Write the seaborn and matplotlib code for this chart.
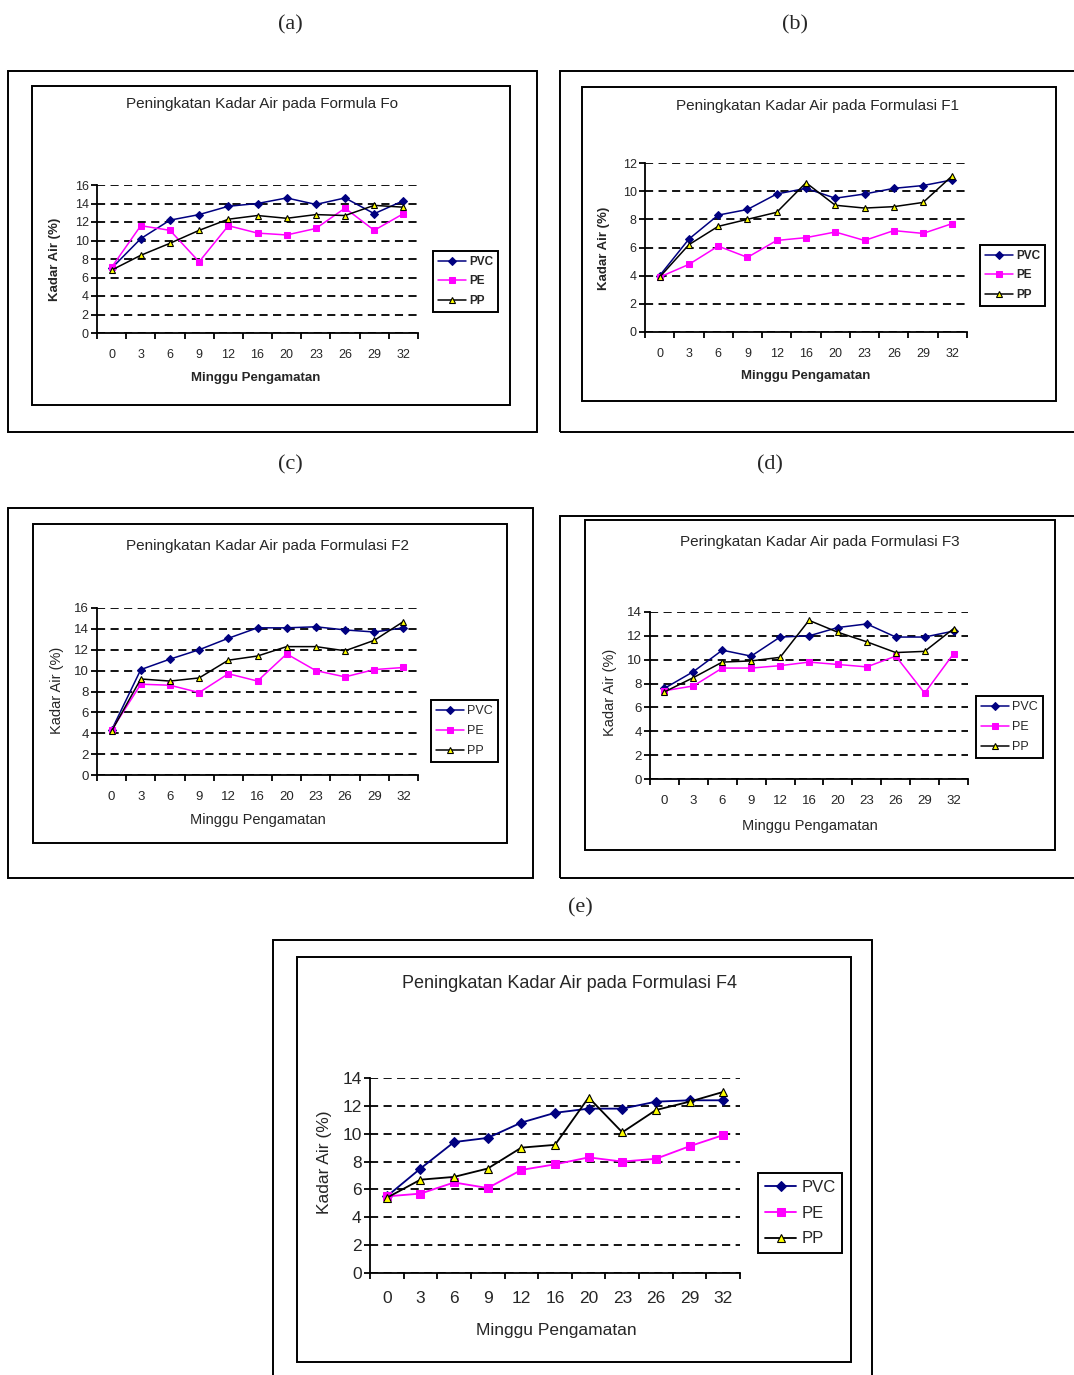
import numpy as np
import pandas as pd
import seaborn as sns
import matplotlib.pyplot as plt
from matplotlib.patches import Rectangle

weeks = ["0", "3", "6", "9", "12", "16", "20", "23", "26", "29", "32"]
materials = ["PVC", "PE", "PP"]

# (a) Formula Fo
fo_pvc = [7.0, 10.2, 12.2, 12.8, 13.7, 14.0, 14.6, 13.9, 14.6, 12.9, 14.3]
fo_pe = [7.1, 11.6, 11.1, 7.7, 11.6, 10.8, 10.6, 11.3, 13.5, 11.1, 12.9]
fo_pp = [6.8, 8.4, 9.7, 11.1, 12.3, 12.7, 12.4, 12.8, 12.7, 13.8, 13.6]

# (b) Formulasi F1
f1_pvc = [4.0, 6.6, 8.3, 8.7, 9.8, 10.2, 9.5, 9.8, 10.2, 10.4, 10.8]
f1_pe = [3.9, 4.8, 6.1, 5.3, 6.5, 6.7, 7.1, 6.5, 7.2, 7.0, 7.7]
f1_pp = [3.9, 6.2, 7.5, 8.0, 8.5, 10.6, 9.0, 8.8, 8.9, 9.2, 11.1]

# (c) Formulasi F2
f2_pvc = [4.3, 10.1, 11.1, 12.0, 13.1, 14.1, 14.1, 14.2, 13.9, 13.7, 14.1]
f2_pe = [4.3, 8.7, 8.6, 7.9, 9.7, 9.0, 11.6, 10.0, 9.4, 10.1, 10.3]
f2_pp = [4.2, 9.2, 9.0, 9.3, 11.0, 11.4, 12.3, 12.3, 11.9, 12.9, 14.7]

# (d) Formulasi F3
f3_pvc = [7.6, 9.0, 10.8, 10.3, 11.9, 12.0, 12.7, 13.0, 11.9, 11.9, 12.4]
f3_pe = [7.4, 7.8, 9.3, 9.3, 9.5, 9.8, 9.6, 9.4, 10.3, 7.2, 10.5]
f3_pp = [7.3, 8.5, 9.8, 9.9, 10.2, 13.3, 12.3, 11.5, 10.6, 10.7, 12.6]

# (e) Formulasi F4
f4_pvc = [5.5, 7.5, 9.4, 9.7, 10.8, 11.5, 11.8, 11.8, 12.3, 12.4, 12.4]
f4_pe = [5.5, 5.7, 6.5, 6.1, 7.4, 7.8, 8.3, 8.0, 8.2, 9.1, 9.9]
f4_pp = [5.4, 6.7, 6.9, 7.5, 9.0, 9.2, 12.6, 10.1, 11.7, 12.3, 13.0]

W, H = 1074, 1375
sns.set_style("white")
plt.rcParams['font.family'] = ['Liberation Sans', 'DejaVu Sans']

fig = plt.figure(figsize=(W / 100, H / 100), dpi=100)


def fx(px):
    return px / W


def fy(py):
    return 1 - py / H


def box(x0, y0, x1, y1, lw=1.4):
    fig.patches.append(Rectangle((fx(x0), fy(y1)), fx(x1) - fx(x0), fy(y0) - fy(y1),
                                 transform=fig.transFigure, fill=False,
                                 edgecolor="black", lw=lw))


styles = {
    "PVC": dict(color="#000080", marker="D", markersize=4, markerfacecolor="#000080",
                markeredgecolor="#000080"),
    "PE": dict(color="#FF00FF", marker="s", markersize=4.5, markerfacecolor="#FF00FF",
               markeredgecolor="#FF00FF"),
    "PP": dict(color="black", marker="^", markersize=5, markerfacecolor="#FFFF00",
               markeredgecolor="black", markeredgewidth=0.8),
}


def panel(values, title, ymax, axrect, title_xy, xlab_xy, ylab_xy, leg_xy,
          fs_tick, fs_title, fs_lab, fs_leg, bold, scale=1.0, hlen=2.4):
    left, top, right, bottom = axrect
    ax = fig.add_axes([fx(left), fy(bottom), fx(right) - fx(left), (bottom - top) / H])
    pos = np.arange(len(weeks))
    for name, vals in zip(materials, values):
        df = pd.DataFrame({"pos": pos, "val": vals})
        st = dict(styles[name])
        st["markersize"] = st["markersize"] * scale
        sns.lineplot(data=df, x="pos", y="val", ax=ax, lw=1.1 * scale, label=name,
                     zorder=3, **st)
    ax.set_xlim(-0.5, len(weeks) - 0.5)
    ax.set_ylim(0, ymax)
    ax.set_yticks(range(0, ymax + 1, 2))
    ax.set_xticks(pos)
    ax.set_xticklabels(weeks)
    ax.set_xticks(np.arange(-0.5, len(weeks), 1.0), minor=True)
    ax.tick_params(axis="x", which="major", bottom=False, labelsize=fs_tick,
                   pad=8 * scale)
    ax.tick_params(axis="x", which="minor", bottom=True, length=4, width=1.3,
                   direction="out", color="black")
    ax.tick_params(axis="y", which="major", left=True, length=4, width=1.3,
                   direction="out", color="black", labelsize=fs_tick, pad=2)
    ax.yaxis.grid(True, linestyle=(0, (4.5, 3)), color="black", lw=1.3)
    ax.xaxis.grid(False)
    for s in ["top", "right"]:
        ax.spines[s].set_visible(False)
    for s in ["left", "bottom"]:
        ax.spines[s].set_color("black")
        ax.spines[s].set_linewidth(1.3)
    ax.set_xlabel("")
    ax.set_ylabel("")
    ax.patch.set_alpha(0)
    w = "bold" if bold else "normal"
    fig.text(fx(title_xy[0]), fy(title_xy[1]), title, ha="center", va="center",
             fontsize=fs_title)
    fig.text(fx(xlab_xy[0]), fy(xlab_xy[1]), "Minggu Pengamatan", ha="center",
             va="center", fontsize=fs_lab, weight=w)
    fig.text(fx(ylab_xy[0]), fy(ylab_xy[1]), "Kadar Air (%)", ha="center",
             va="center", rotation=90, fontsize=fs_lab, weight=w)
    leg = ax.legend(loc="upper left", bbox_to_anchor=(fx(leg_xy[0]), fy(leg_xy[1])),
                    bbox_transform=fig.transFigure, frameon=True, fancybox=False,
                    edgecolor="black", framealpha=1, handlelength=hlen,
                    borderpad=0.4, labelspacing=0.65, handletextpad=0.3,
                    borderaxespad=0, prop={"size": fs_leg, "weight": w})
    leg.get_frame().set_linewidth(1.4)
    return ax


# panel labels
for lab, x, y in [("(a)", 290, 25), ("(b)", 795, 25), ("(c)", 290, 465),
                  ("(d)", 770, 465), ("(e)", 580, 908)]:
    fig.text(fx(x), fy(y), lab, ha="center", va="center", fontsize=16,
             family=["Liberation Serif", "DejaVu Serif"])

# frames
box(8, 71, 537, 432); box(32, 86, 510, 405)
box(560, 71, 1080, 432); box(582, 87, 1056, 401)
box(8, 508, 533, 878); box(33, 524, 507, 843)
box(560, 516, 1080, 878); box(585, 520, 1055, 850)
box(273, 940, 872, 1380); box(297, 957, 851, 1362)

panel([fo_pvc, fo_pe, fo_pp], "Peningkatan Kadar Air pada Formula Fo", 16,
      (97, 185, 418, 333), (262, 104), (256, 378), (55, 259), (433, 251),
      9, 11, 9.5, 8.5, True)
panel([f1_pvc, f1_pe, f1_pp], "Peningkatan Kadar Air pada Formulasi F1", 12,
      (645, 163, 967, 332), (818, 106), (806, 376), (604, 248), (980, 245),
      9, 11, 9.5, 8.5, True)
panel([f2_pvc, f2_pe, f2_pp], "Peningkatan Kadar Air pada Formulasi F2", 16,
      (97, 608, 418, 775), (268, 546), (258, 820), (57, 690), (431, 700),
      9.5, 11, 10.5, 9, False, hlen=2.2)
panel([f3_pvc, f3_pe, f3_pp], "Peringkatan Kadar Air pada Formulasi F3", 14,
      (650, 612, 968, 779), (820, 542), (810, 826), (610, 692), (976, 696),
      9.5, 11, 10.5, 9, False, hlen=2.2)
panel([f4_pvc, f4_pe, f4_pp], "Peningkatan Kadar Air pada Formulasi F4", 14,
      (370, 1078, 740, 1273), (570, 983), (556, 1330), (325, 1162), (758, 1173),
      12.5, 13, 12.5, 12, False, scale=1.2, hlen=1.9)

fig.savefig("out.png", dpi=100)
